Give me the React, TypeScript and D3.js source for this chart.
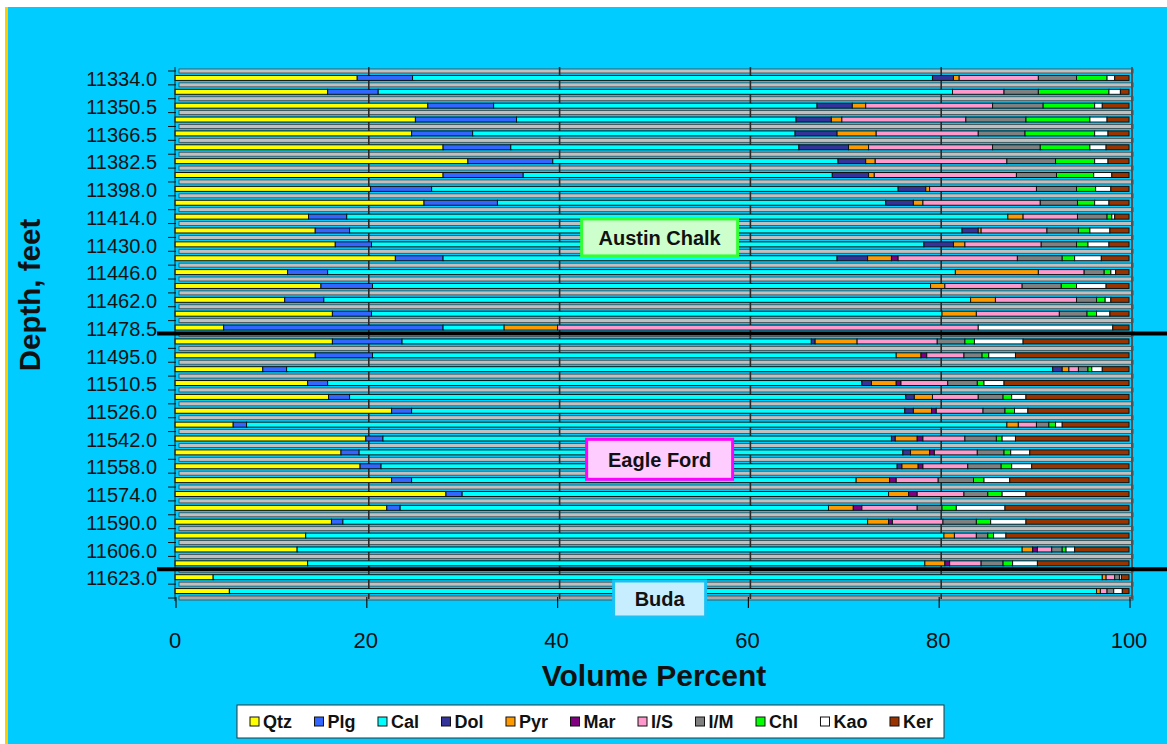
import React, { useEffect, useRef } from 'react'
import * as d3 from 'd3'

// depth of each sample, feet (only every other one is printed on the axis)
const depths = [
  '11334.0', '11342.0', '11350.5', '11358.5', '11366.5', '11374.5', '11382.5', '11390.0',
  '11398.0', '11406.0', '11414.0', '11422.0', '11430.0', '11438.0', '11446.0', '11454.0',
  '11462.0', '11470.0', '11478.5', '11487.0', '11495.0', '11503.0', '11510.5', '11518.0',
  '11526.0', '11534.0', '11542.0', '11550.0', '11558.0', '11566.0', '11574.0', '11582.0',
  '11590.0', '11598.0', '11606.0', '11614.5', '11623.0', '11631.0'
]

const qtz = [19.1, 16.0, 26.5, 25.2, 24.8, 28.1, 30.7, 28.1, 20.5, 26.1, 14.0, 14.7, 16.8, 23.1, 11.8, 15.3, 11.5, 16.5, 5.1, 16.5, 14.7, 9.2, 13.9, 16.1, 22.7, 6.1, 20.0, 17.4, 19.4, 22.7, 28.4, 22.2, 16.4, 13.7, 12.8, 13.9, 4.0, 5.7]
const plg = [5.8, 5.3, 6.9, 10.6, 6.4, 7.1, 8.9, 8.4, 6.4, 7.7, 4.0, 3.6, 3.8, 5.0, 4.2, 5.4, 4.1, 4.1, 23.0, 7.3, 6.0, 2.5, 2.1, 2.2, 2.1, 1.4, 1.8, 1.9, 2.2, 2.1, 1.7, 1.4, 1.2, 0, 0, 0, 0, 0]
const cal = [54.5, 60.2, 33.9, 29.3, 33.8, 30.2, 29.9, 32.4, 48.9, 40.7, 69.3, 64.2, 57.9, 41.3, 65.8, 58.5, 67.8, 59.8, 6.4, 42.9, 54.9, 80.3, 56.0, 58.3, 51.7, 79.7, 53.3, 57.0, 54.1, 46.6, 44.7, 44.9, 55.0, 66.9, 76.0, 64.7, 93.2, 90.9]
const dol = [2.2, 0, 3.7, 3.7, 4.4, 5.2, 2.9, 3.8, 2.9, 2.9, 0, 1.7, 3.1, 3.2, 0, 0, 0, 0, 0, 0.4, 0, 1.0, 1.0, 0.9, 0.9, 0, 0.4, 0.8, 0.5, 0, 0, 0, 0, 0, 0, 0, 0, 0]
const pyr = [0.6, 0, 1.4, 1.1, 4.1, 2.1, 1.0, 0.6, 0.4, 1.0, 1.6, 0.3, 1.2, 2.5, 8.7, 1.5, 2.6, 3.6, 5.6, 4.4, 2.6, 0.7, 2.6, 1.9, 1.9, 1.2, 2.3, 2.0, 1.7, 3.5, 2.1, 2.6, 2.2, 1.1, 1.1, 2.1, 0.4, 0.4]
const mar = [0, 0, 0, 0, 0, 0, 0, 0, 0, 0, 0, 0, 0, 0.7, 0, 0, 0, 0, 0, 0, 0.6, 0, 0.5, 0, 0.5, 0, 0.6, 0.5, 0.5, 0.7, 0.9, 0.9, 0.4, 0, 0.5, 0.5, 0, 0]
const illSmec = [8.3, 5.4, 13.3, 13.0, 10.7, 13.0, 13.8, 14.9, 11.2, 12.3, 5.7, 6.9, 8.0, 12.5, 4.8, 8.1, 8.5, 8.7, 44.1, 8.4, 3.9, 1.0, 4.9, 4.8, 4.9, 1.9, 4.4, 4.5, 4.7, 4.4, 4.9, 5.8, 5.3, 2.3, 1.5, 3.3, 0.9, 0.7]
const illMica = [4.0, 3.6, 5.3, 6.3, 4.9, 5.0, 5.1, 4.2, 4.2, 3.9, 3.1, 3.3, 3.7, 4.7, 2.1, 4.1, 2.1, 2.9, 0, 2.9, 1.9, 1.0, 3.1, 2.6, 2.3, 1.3, 3.3, 2.8, 3.5, 3.7, 2.5, 2.6, 3.5, 1.2, 1.1, 2.3, 0.5, 0.7]
const chl = [3.2, 7.4, 5.4, 6.7, 7.3, 5.2, 4.1, 3.9, 2.0, 1.8, 0.5, 1.2, 1.2, 1.3, 0.7, 1.6, 0.9, 1.0, 0, 1.0, 0.7, 0.4, 0.7, 0.9, 1.0, 0.7, 0.6, 0.7, 1.1, 1.1, 1.5, 1.5, 1.5, 0.6, 0.4, 1.0, 0, 0]
const kao = [0.8, 1.2, 0.8, 1.8, 1.4, 1.7, 1.4, 1.9, 1.6, 1.5, 0.3, 2.1, 2.2, 2.8, 0.5, 3.1, 0.6, 1.4, 14.1, 5.1, 2.8, 1.1, 2.1, 1.5, 1.4, 0.7, 1.4, 2.0, 2.1, 2.7, 2.5, 5.1, 3.7, 1.3, 0.9, 2.6, 0.2, 0.9]
const ker = [1.5, 0.9, 2.8, 2.3, 2.2, 2.4, 2.2, 1.8, 1.9, 2.1, 1.5, 2.0, 2.1, 2.9, 1.4, 2.4, 1.9, 2.0, 1.7, 11.1, 11.9, 2.8, 13.1, 10.8, 10.6, 7.0, 11.9, 10.4, 10.2, 12.5, 10.8, 13.0, 10.8, 12.9, 5.7, 9.6, 0.8, 0.7]

const minerals = ['Qtz', 'Plg', 'Cal', 'Dol', 'Pyr', 'Mar', 'I/S', 'I/M', 'Chl', 'Kao', 'Ker']
const series = [qtz, plg, cal, dol, pyr, mar, illSmec, illMica, chl, kao, ker]
const colors = ['#FFFF00', '#3366FF', '#00FFFF', '#333399', '#FF9900', '#800080', '#FF99CC', '#808080', '#00FF00', '#FFFFFF', '#993300']

const xTicks = [0, 20, 40, 60, 80, 100]

// formation tops, drawn as black lines above these samples
const tops = ['11487.0', '11623.0']
const units = ['Austin Chalk', 'Eagle Ford', 'Buda']

const W = 1167
const H = 744
const FONT = 'Arial, "Liberation Sans", sans-serif'

export default function App() {
  const ref = useRef<SVGSVGElement>(null)

  useEffect(() => {
    const svg = d3.select(ref.current)
    svg.selectAll('*').remove()

    const rows = depths.map((d, i) => {
      const r: any = { depth: d }
      minerals.forEach((m, j) => { r[m] = series[j][i] })
      return r
    })
    const stacked = d3.stack().keys(minerals).offset(d3.stackOffsetExpand)(rows)

    const x = d3.scaleLinear().domain([0, 100]).range([175, 1129])
    const y = d3.scaleBand().domain(depths).range([71, 598]).padding(0)
    const bw = y.bandwidth()
    const mid = (d: string) => (y(d) as number) + bw / 2
    const top = 67
    const bottom = 601

    // page background
    svg.append('rect').attr('width', W).attr('height', H).attr('fill', '#fff')
    svg.append('rect').attr('x', 8).attr('y', 7).attr('width', W - 8).attr('height', H - 7).attr('fill', '#00CCFF')
    svg.append('rect').attr('x', 5).attr('y', 7).attr('width', 3).attr('height', H - 7).attr('fill', '#FFCC00')

    // grey depth strips between the bars (3-D look)
    const strips = d3.range(depths.length + 1).map(i => 71 + i * bw)
    svg.append('g')
      .selectAll('rect')
      .data(strips)
      .enter()
      .append('rect')
        .attr('x', x(0) + 4)
        .attr('y', d => d - 2)
        .attr('width', x(100) - x(0))
        .attr('height', 4)
        .attr('fill', (d, i) => i === strips.length - 1 ? '#A8A8A8' : '#C0C0C0')
        .attr('stroke', '#404040')
        .attr('stroke-width', 0.8)

    svg.append('g')
      .selectAll('line')
      .data(xTicks.slice(1))
      .enter()
      .append('line')
        .attr('x1', d => x(d) + 3)
        .attr('x2', d => x(d) + 3)
        .attr('y1', top)
        .attr('y2', bottom - 2)
        .attr('stroke', d => d === 100 ? '#505050' : '#2a2a2a')
        .attr('stroke-width', d => d === 100 ? 2 : 1.6)

    // mineral bars
    svg.append('g')
      .selectAll('g')
      .data(stacked)
      .enter()
      .append('g')
        .attr('fill', (d, i) => colors[i])
      .selectAll('rect')
      .data(d => d.filter(s => s[1] - s[0] > 0))
      .enter()
      .append('rect')
        .attr('x', d => x(d[0] * 100))
        .attr('y', d => mid(d.data.depth) - 2.5)
        .attr('width', d => x(d[1] * 100) - x(d[0] * 100))
        .attr('height', 5)
        .attr('stroke', '#111')
        .attr('stroke-width', 1)

    // left axis
    svg.append('line')
      .attr('x1', 175).attr('x2', 175).attr('y1', top).attr('y2', bottom)
      .attr('stroke', '#222').attr('stroke-width', 1)
    svg.append('g')
      .selectAll('line')
      .data(strips)
      .enter()
      .append('line')
        .attr('x1', 168)
        .attr('x2', 176)
        .attr('y1', d => d)
        .attr('y2', d => d)
        .attr('stroke', '#111')
        .attr('stroke-width', 1)

    svg.append('g')
      .selectAll('text')
      .data(depths.filter((d, i) => i % 2 === 0))
      .enter()
      .append('text')
        .attr('x', 157)
        .attr('y', d => mid(d) + 1)
        .attr('dy', '0.36em')
        .attr('text-anchor', 'end')
        .attr('font-family', FONT)
        .attr('font-size', 20)
        .attr('fill', '#111')
        .text(d => d)

    // bottom axis
    svg.append('g')
      .selectAll('line')
      .data(xTicks)
      .enter()
      .append('line')
        .attr('x1', d => x(d) + 1)
        .attr('x2', d => x(d) + 1)
        .attr('y1', bottom - 4)
        .attr('y2', bottom + 7)
        .attr('stroke', '#111')
        .attr('stroke-width', 1.2)

    svg.append('g')
      .selectAll('text')
      .data(xTicks)
      .enter()
      .append('text')
        .attr('x', d => x(d))
        .attr('y', 648)
        .attr('text-anchor', 'middle')
        .attr('font-family', FONT)
        .attr('font-size', 22)
        .attr('fill', '#111')
        .text(d => d)

    // formation tops
    svg.append('g')
      .selectAll('line')
      .data(tops)
      .enter()
      .append('line')
        .attr('x1', 157)
        .attr('x2', W)
        .attr('y1', d => (y(d) as number) - 1)
        .attr('y2', d => (y(d) as number) - 1)
        .attr('stroke', '#000')
        .attr('stroke-width', 4)

    // unit name boxes
    const unitY = [y(depths[12]) as number, y(depths[28]) as number, 599]
    const unitFill = ['#CCFFCC', '#FFCCFF', '#C6EEFF']
    const unitEdge = ['#33FF33', '#FF00FF', '#19C3F5']
    const unitW = [156, 146, 92]
    const unitH = [37, 40, 36]
    const ug = svg.append('g')
      .selectAll('g')
      .data(units)
      .enter()
      .append('g')
        .attr('transform', (d, i) => `translate(${x(50.8)},${unitY[i]})`)
    ug.append('rect')
      .attr('x', (d, i) => -unitW[i] / 2)
      .attr('y', (d, i) => -unitH[i] / 2)
      .attr('width', (d, i) => unitW[i])
      .attr('height', (d, i) => unitH[i])
      .attr('fill', (d, i) => unitFill[i])
      .attr('stroke', (d, i) => unitEdge[i])
      .attr('stroke-width', 3)
    ug.append('text')
      .attr('text-anchor', 'middle')
      .attr('dy', '0.36em')
      .attr('font-family', FONT)
      .attr('font-weight', 'bold')
      .attr('font-size', 20)
      .attr('fill', '#111')
      .text(d => d)

    // axis titles
    svg.append('text')
      .attr('x', 654)
      .attr('y', 686)
      .attr('text-anchor', 'middle')
      .attr('font-family', FONT)
      .attr('font-weight', 'bold')
      .attr('font-size', 30)
      .attr('fill', '#111')
      .text('Volume Percent')
    svg.append('text')
      .attr('transform', 'translate(40,295) rotate(-90)')
      .attr('text-anchor', 'middle')
      .attr('font-family', FONT)
      .attr('font-weight', 'bold')
      .attr('font-size', 29.5)
      .attr('fill', '#111')
      .text('Depth, feet')

    // legend
    const lg = svg.append('g')
    lg.append('rect')
      .attr('x', 237).attr('y', 705).attr('width', 707).attr('height', 33)
      .attr('fill', '#fff').attr('stroke', '#333').attr('stroke-width', 1)
    const ctx = document.createElement('canvas').getContext('2d') as CanvasRenderingContext2D
    ctx.font = 'bold 18px Arial, "Liberation Sans", sans-serif'
    const widths = minerals.map(m => ctx.measureText(m).width)
    const sq = 9
    const gapIn = 4
    const left = 250
    const right = 933
    const used = d3.sum(widths) + minerals.length * (sq + gapIn)
    const gap = (right - left - used) / (minerals.length - 1)
    let cx = left
    minerals.forEach((m, i) => {
      lg.append('rect')
        .attr('x', cx).attr('y', 717).attr('width', sq).attr('height', sq)
        .attr('fill', colors[i]).attr('stroke', '#111').attr('stroke-width', 1)
      lg.append('text')
        .attr('x', cx + sq + gapIn)
        .attr('y', 728)
        .attr('font-family', FONT)
        .attr('font-weight', 'bold')
        .attr('font-size', 18)
        .attr('fill', '#111')
        .text(m)
      cx += sq + gapIn + widths[i] + gap
    })
  }, [])

  return (
    <svg ref={ref} width={W} height={H} style={{ position: 'absolute', left: 0, top: 0 }} />
  )
}
